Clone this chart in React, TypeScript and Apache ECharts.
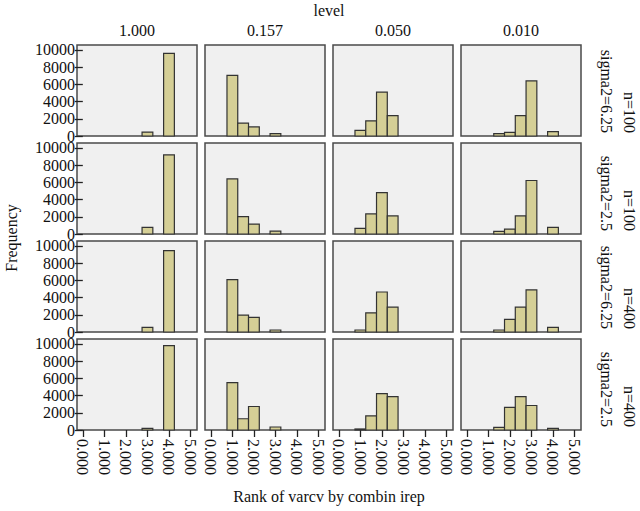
import React, { useEffect, useRef } from "react";
import * as echarts from "echarts";

const levels = ["1.000", "0.157", "0.050", "0.010"];
const rowLabels = ["n=100\nsigma2=6.25", "n=100\nsigma2=2.5", "n=400\nsigma2=6.25", "n=400\nsigma2=2.5"];
const bins = [1, 1.5, 2, 2.5, 3, 3.5, 4];
const xTicks = [0, 1, 2, 3, 4, 5];
const yTicks = [0, 2000, 4000, 6000, 8000, 10000];

// n=100, sigma2=6.25
const r1c1 = [0, 0, 0, 0, 460, 0, 9600];
const r1c2 = [7050, 1500, 1050, 0, 270, 0, 0];
const r1c3 = [650, 1770, 5100, 2380, 0, 0, 0];
const r1c4 = [0, 270, 420, 2380, 6400, 0, 500];
// n=100, sigma2=2.5
const r2c1 = [0, 0, 0, 0, 760, 0, 9200];
const r2c2 = [6400, 2020, 1150, 0, 340, 0, 0];
const r2c3 = [650, 2330, 4800, 2100, 0, 0, 0];
const r2c4 = [0, 300, 570, 2100, 6220, 0, 760];
// n=400, sigma2=6.25
const r3c1 = [0, 0, 0, 0, 540, 0, 9460];
const r3c2 = [6080, 1960, 1690, 0, 230, 0, 0];
const r3c3 = [230, 2230, 4650, 2890, 0, 0, 0];
const r3c4 = [0, 230, 1460, 2890, 4890, 0, 540];
// n=400, sigma2=2.5
const r4c1 = [0, 0, 0, 0, 190, 0, 9810];
const r4c2 = [5500, 1310, 2730, 0, 350, 0, 0];
const r4c3 = [120, 1650, 4230, 3890, 0, 0, 0];
const r4c4 = [0, 310, 2620, 3890, 2850, 0, 190];

const panels = [
  [r1c1, r1c2, r1c3, r1c4],
  [r2c1, r2c2, r2c3, r2c4],
  [r3c1, r3c2, r3c3, r3c4],
  [r4c1, r4c2, r4c3, r4c4],
];

const FONT = "'Liberation Serif', 'Times New Roman', serif";

export default function App() {
  const ref = useRef<HTMLDivElement>(null);
  useEffect(() => {
    if (!ref.current) return;
    const chart = echarts.init(ref.current, null, { renderer: "svg" });
    const grids: any[] = [];
    const xAxes: any[] = [];
    const yAxes: any[] = [];
    const series: any[] = [];
    const graphics: any[] = [];
    const colLeft = 77, colStep = 128, colW = 120;
    const rowTop = 45, rowStep = 98, rowH = 91;
    for (let r = 0; r < 4; r++) {
      for (let c = 0; c < 4; c++) {
        const idx = r * 4 + c;
        grids.push({
          left: colLeft + colStep * c,
          top: rowTop + rowStep * r,
          width: colW,
          height: rowH,
          show: true,
          backgroundColor: "#f0f0f0",
          borderColor: "#4a4a4a",
          borderWidth: 1.5,
          containLabel: false,
        });
        const bottom = r === 3;
        const left = c === 0;
        xAxes.push({
          type: "value",
          gridIndex: idx,
          min: -0.27,
          max: 5.3,
          axisLine: { show: false },
          splitLine: { show: false },
          axisTick: {
            show: bottom,
            length: 7,
            lineStyle: { color: "#222", width: 1.3 },
            customValues: xTicks,
          },
          axisLabel: {
            show: bottom,
            rotate: -90,
            margin: 9,
            fontFamily: FONT,
            fontSize: 16,
            color: "#111",
            customValues: xTicks,
            formatter: (v: number) => v.toFixed(3),
          },
        });
        yAxes.push({
          type: "value",
          gridIndex: idx,
          min: 0,
          max: 10580,
          axisLine: { show: false },
          splitLine: { show: false },
          axisTick: {
            show: left,
            length: 8,
            lineStyle: { color: "#222", width: 1.3 },
            customValues: yTicks,
          },
          axisLabel: {
            show: left,
            margin: 2,
            fontFamily: FONT,
            fontSize: 16,
            lineHeight: 11,
            color: "#111",
            customValues: yTicks,
            formatter: (v: number) => String(v),
          },
        });
        const vals = panels[r][c];
        const data = bins
          .map((b, i) => [b, vals[i]])
          .filter((d) => d[1] > 0);
        series.push({
          type: "custom",
          xAxisIndex: idx,
          yAxisIndex: idx,
          data,
          renderItem: (params: any, api: any) => {
            const x = api.value(0);
            const y = api.value(1);
            const p0 = api.coord([x - 0.25, y]);
            const p1 = api.coord([x + 0.25, 0]);
            return {
              type: "rect",
              shape: { x: p0[0], y: p0[1], width: p1[0] - p0[0], height: p1[1] - p0[1] },
              style: { fill: "#d5cf96", stroke: "#333", lineWidth: 1.2 },
            };
          },
        });
      }
    }
    for (let c = 0; c < 4; c++) {
      graphics.push({
        type: "text",
        x: colLeft + colStep * c + colW / 2,
        y: 30,
        style: {
          text: levels[c],
          font: `16px ${FONT}`,
          fill: "#111",
          textAlign: "center",
          textVerticalAlign: "middle",
        },
      });
    }
    for (let r = 0; r < 4; r++) {
      graphics.push({
        type: "text",
        x: 618,
        y: rowTop + rowStep * r + rowH - 3,
        rotation: -Math.PI / 2,
        style: {
          text: rowLabels[r],
          font: `16px ${FONT}`,
          fill: "#111",
          textAlign: "right",
          textVerticalAlign: "middle",
          lineHeight: 23,
        },
      });
    }
    graphics.push({
      type: "text",
      x: 329,
      y: 10,
      style: { text: "level", font: `16px ${FONT}`, fill: "#111", textAlign: "center", textVerticalAlign: "middle" },
    });
    graphics.push({
      type: "text",
      x: 329,
      y: 496,
      style: {
        text: "Rank of varcv by combin irep",
        font: `16px ${FONT}`,
        fill: "#111",
        textAlign: "center",
        textVerticalAlign: "middle",
      },
    });
    graphics.push({
      type: "text",
      x: 11,
      y: 238,
      rotation: Math.PI / 2,
      style: { text: "Frequency", font: `16px ${FONT}`, fill: "#111", textAlign: "center", textVerticalAlign: "middle" },
    });
    chart.setOption({
      animation: false,
      backgroundColor: "#ffffff",
      grid: grids,
      xAxis: xAxes,
      yAxis: yAxes,
      series,
      graphic: graphics,
    });
    return () => chart.dispose();
  }, []);
  return (
    <div
      ref={ref}
      style={{ position: "fixed", left: 0, top: 0, width: 640, height: 511 }}
    />
  );
}
